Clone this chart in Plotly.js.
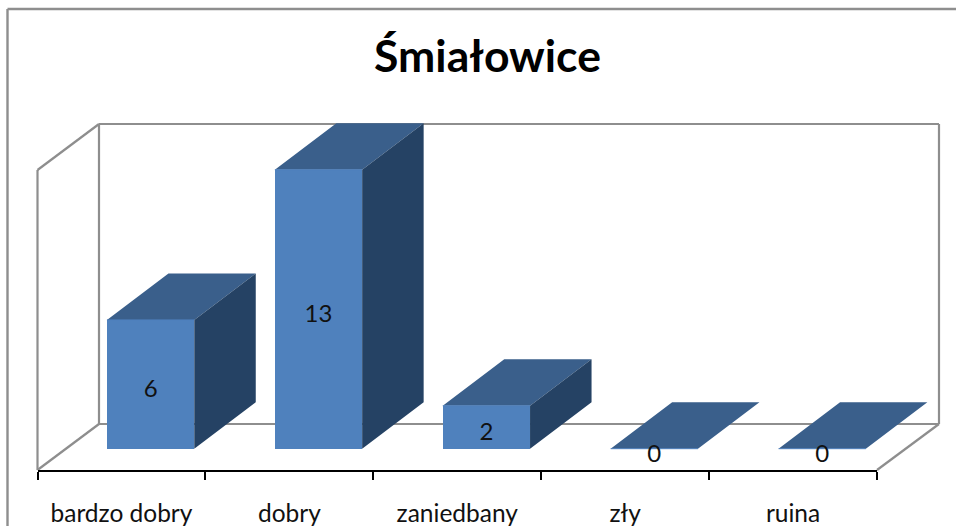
<!DOCTYPE html>
<html><head><meta charset="utf-8">
<script src="https://cdn.plot.ly/plotly-3.0.1.min.js"></script>
<style>html,body{margin:0;padding:0;background:#fff}#c{width:956px;height:526px}</style>
</head><body><div id="c"></div>
<script>
const categories = ['bardzo dobry', 'dobry', 'zaniedbany', 'zły', 'ruina'];
const values = [6, 13, 2, 0, 0];
const chartTitle = 'Śmiałowice';

const W = 956, H = 526;
const FRONT = '#4F81BD', TOP = '#3A5F8B', SIDE = '#254264', WALL = '#8E8E8E';
const FONT = 'Lato, Carlito, Calibri, sans-serif';
// bar coordinate system: pixel placement of category index and value
const X0 = 150.6, XU = 167.9, Y0 = 448.7, YU = 21.46;
const BARW = 87.3 / XU, DX = 61.5 / XU, DY = 46.5 / YU;
const idx = categories.map((_, i) => i);

const faceX = [], topY = [], sideX = [], sideY = [], edgeX = [], edgeY = [];
idx.forEach(i => {
  const l = i - BARW / 2, r = i + BARW / 2, v = values[i];
  faceX.push(l, r, r + DX, l + DX, l, null);
  topY.push(v, v, v + DY, v + DY, v, null);
  if (v > 0) {
    sideX.push(r, r + DX, r + DX, r, r, null);
    sideY.push(0, DY, v + DY, v, 0, null);
  }
  edgeX.push(l, r, null);
  edgeY.push(v, v, null);
});

const traces = [
  {type: 'scatter', x: categories, y: values.map(() => null), xaxis: 'x', yaxis: 'y', mode: 'none', hoverinfo: 'skip', showlegend: false},
  {type: 'bar', x: idx, y: values, width: BARW, xaxis: 'x2', yaxis: 'y2', marker: {color: FRONT, line: {width: 0}}, showlegend: false, hoverinfo: 'skip'},
  {type: 'scatter', x: faceX, y: topY, xaxis: 'x2', yaxis: 'y2', mode: 'lines', line: {width: 0}, fill: 'toself', fillcolor: TOP, showlegend: false, hoverinfo: 'skip'},
  {type: 'scatter', x: sideX, y: sideY, xaxis: 'x2', yaxis: 'y2', mode: 'lines', line: {width: 0}, fill: 'toself', fillcolor: SIDE, showlegend: false, hoverinfo: 'skip'},
  {type: 'scatter', x: edgeX, y: edgeY, xaxis: 'x2', yaxis: 'y2', mode: 'lines', line: {width: 1, color: FRONT}, showlegend: false, hoverinfo: 'skip'},
  {type: 'scatter', x: idx, y: values.map(v => v / 2 - 0.33), text: values.map(String), xaxis: 'x2', yaxis: 'y2', mode: 'text', textposition: 'middle center', textfont: {family: FONT, size: 24, color: '#111'}, showlegend: false, hoverinfo: 'skip', cliponaxis: false}
];

const px = x => x / W, py = y => 1 - y / H;
const seg = (x0, y0, x1, y1, w) => ({type: 'line', xref: 'paper', yref: 'paper', x0: px(x0), y0: py(y0), x1: px(x1), y1: py(y1), layer: 'below', line: {color: WALL, width: w || 2.2}});
const shapes = [
  seg(7.5, 9, 956, 9, 2.4), seg(7.5, 9, 7.5, 526, 2.4),
  seg(99, 124, 939, 124), seg(99, 124, 99, 424), seg(939, 124, 939, 424),
  seg(99, 424, 939, 424), seg(37.5, 170, 99, 124), seg(37.5, 170, 37.5, 470),
  seg(37.5, 470, 99, 424), seg(877, 470, 939, 424)
];

const layout = {
  width: W, height: H, margin: {l: 0, r: 0, t: 0, b: 0},
  paper_bgcolor: '#fff', plot_bgcolor: 'rgba(0,0,0,0)',
  title: {text: '<b>' + chartTitle + '</b>', x: 487.5 / W, xanchor: 'center', y: 1 - 56 / H, yanchor: 'middle', font: {family: FONT, size: 44.5, color: '#000'}},
  showlegend: false, shapes,
  xaxis: {domain: [37.5 / W, 877 / W], anchor: 'y', type: 'category', categoryorder: 'array', categoryarray: categories, range: [-0.5, 4.5], tickmode: 'array', tickvals: categories, ticktext: categories, tickson: 'boundaries', ticks: 'outside', ticklen: 8, tickwidth: 2, tickcolor: '#000', showline: true, linecolor: '#000', linewidth: 2, showgrid: false, zeroline: false, fixedrange: true, ticklabelstandoff: 21, tickfont: {family: FONT, size: 24.5, color: '#111'}},
  yaxis: {domain: [1 - 469.6 / H, 1 - 170 / H], anchor: 'x', range: [0, 14], visible: false, fixedrange: true},
  xaxis2: {domain: [0, 1], anchor: 'y2', range: [-X0 / XU, (W - X0) / XU], visible: false, fixedrange: true},
  yaxis2: {domain: [0, 1], anchor: 'x2', range: [-(H - Y0) / YU, Y0 / YU], visible: false, fixedrange: true},
  bargap: 0
};
Plotly.newPlot('c', traces, layout, {displayModeBar: false, staticPlot: true});
</script></body></html>
